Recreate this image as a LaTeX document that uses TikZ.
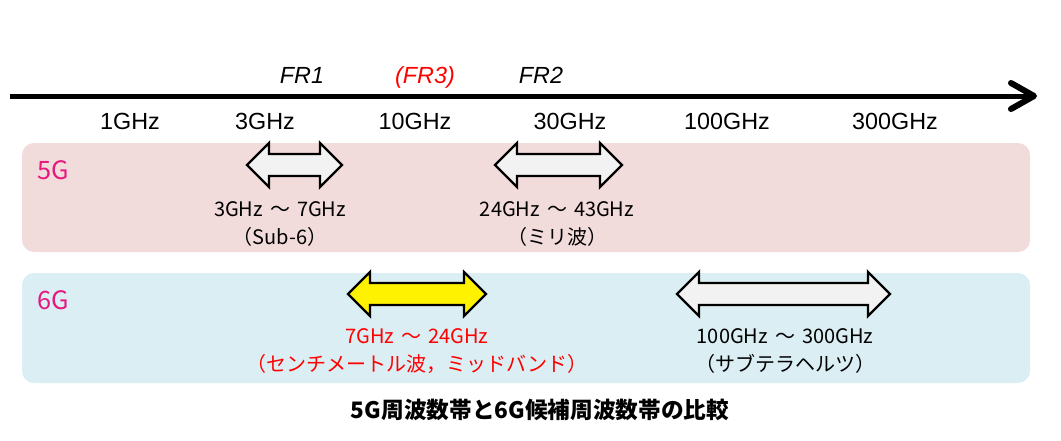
\documentclass[tikz,border=0pt]{standalone}
\usepackage{fontspec}
\setmainfont{Liberation Sans}
\newfontfamily\jp{Noto Sans CJK JP}
\definecolor{pinkbg}{HTML}{F2DCDB}
\definecolor{bluebg}{HTML}{DBEEF4}
\definecolor{gmag}{HTML}{E5197E}
\definecolor{arrowfill}{HTML}{F2F2F2}
\definecolor{fr3red}{HTML}{FF0000}
\newcommand\dbarr[4]{%
  \filldraw[fill=#4, draw=black, line width=1.8pt, line join=miter]
    (#1,#3) -- (#1+22,#3-22) -- (#1+22,#3-11) -- (#2-22,#3-11) -- (#2-22,#3-22)
    -- (#2,#3) -- (#2-22,#3+22) -- (#2-22,#3+11) -- (#1+22,#3+11) -- (#1+22,#3+22) -- cycle;}
\newcommand\tld{\hspace{0.35em}～\hspace{0.35em}}
\begin{document}
\begin{tikzpicture}[x=0.75pt,y=-0.75pt,
  band/.style={rounded corners=9pt},
  frlab/.style={font=\fontsize{17.5}{21}\selectfont\itshape, anchor=base, inner sep=0pt},
  ghz/.style={font=\fontsize{17.5}{21}\selectfont, anchor=base, inner sep=0pt},
  rng/.style={font=\jp\fontsize{15}{18}\selectfont, anchor=base, inner sep=0pt},
  gen/.style={font=\jp\fontsize{19}{22}\selectfont, text=gmag, anchor=base west, inner sep=0pt}]
\useasboundingbox (0,0) rectangle (1061,440);
% bands
\fill[pinkbg, band] (22,143) rectangle (1030,252);
\fill[bluebg, band] (22,273) rectangle (1030,383);
% axis
\coordinate (axs) at (10,96);
\coordinate (axe) at (1034,96);
\draw[line width=3.75pt] (axs) -- ([xshift=-3pt]axe);
\draw[line width=4.5pt, line cap=round, line join=round] (1011,83) -- (axe) -- (1011,109);
% FR labels
\node[frlab] (fr1) at (302,83) {FR1};
\node[frlab, text=fr3red] (fr3) at (425,83) {(FR3)};
\node[frlab] (fr2) at (541,83) {FR2};
% frequency labels
\node[ghz] (f1) at (130,129) {1GHz};
\node[ghz] (f3) at (265,129) {3GHz};
\node[ghz] (f10) at (415,129) {10GHz};
\node[ghz] (f30) at (570,129) {30GHz};
\node[ghz] (f100) at (727,129) {100GHz};
\node[ghz] (f300) at (895,129) {300GHz};
% generation labels
\node[gen] (g5) at (37,179) {5G};
\node[gen] (g6) at (37,309) {6G};
% arrows
\dbarr{247}{342}{165}{arrowfill}
\dbarr{495}{622}{165}{arrowfill}
\dbarr{348}{486}{294}{yellow}
\dbarr{677}{890}{294}{arrowfill}
% range texts
\node[rng] (r1a) at (280,216) {3GHz\tld 7GHz};
\node[rng] (r1b) at (280,244) {（Sub-6）};
\node[rng] (r2a) at (557,216) {24GHz\tld 43GHz};
\node[rng] (r2b) at (557,244) {（ミリ波）};
\node[rng, text=fr3red] (r3a) at (417,343) {7GHz\tld 24GHz};
\node[rng, text=fr3red] (r3b) at (417,371) {（センチメートル波，ミッドバンド）};
\node[rng] (r4a) at (785,343) {100GHz\tld 300GHz};
\node[rng] (r4b) at (785,371) {（サブテラヘルツ）};
% caption
\node[font=\jp\bfseries\fontsize{17}{20}\selectfont, anchor=base, inner sep=0pt] (cap) at (540,418) {5G周波数帯と6G候補周波数帯の比較};
\end{tikzpicture}
\end{document}
